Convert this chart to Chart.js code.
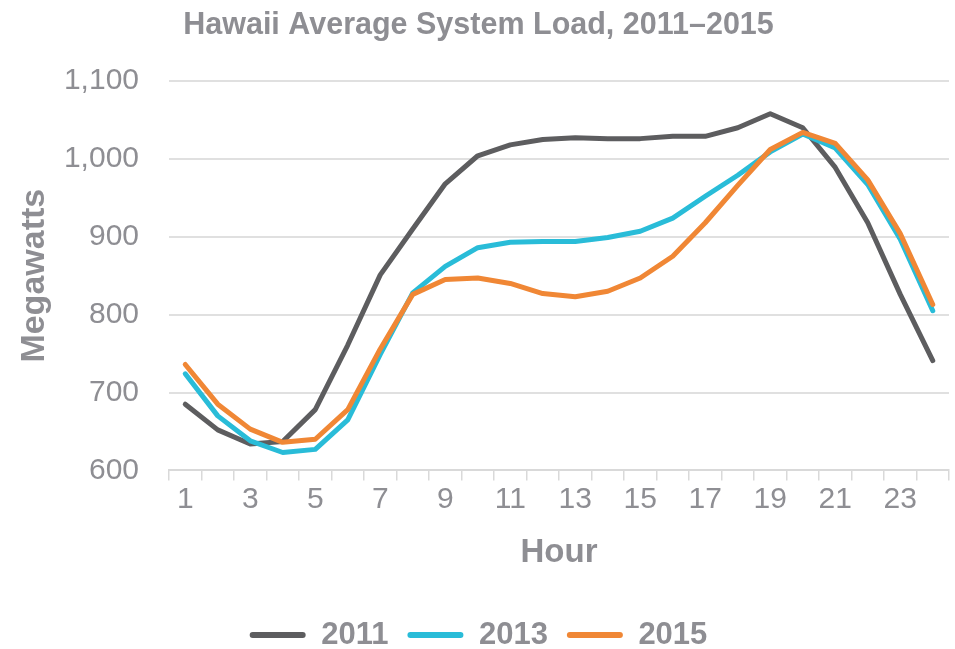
<!DOCTYPE html>
<html>
<head>
<meta charset="utf-8">
<title>Hawaii Average System Load</title>
<script src="https://cdn.jsdelivr.net/npm/chart.js@4/dist/chart.umd.min.js"></script>
<style>
  html, body { margin: 0; padding: 0; background: #fff; }
  #wrap { width: 955px; height: 649px; }
</style>
</head>
<body>
<div id="wrap"><canvas id="G1" width="955" height="649"></canvas></div>
<script>
// hours of the day
const hours = ['1','2','3','4','5','6','7','8','9','10','11','12',
               '13','14','15','16','17','18','19','20','21','22','23','24'];
// only every other hour gets a label
const hourTicks = ['1','3','5','7','9','11','13','15','17','19','21','23'];
const loadTicks = [600, 700, 800, 900, 1000, 1100];

// average load, MW
const load2011 = [685, 652, 634, 637, 678, 761, 851, 910, 968, 1004, 1018, 1025,
                  1027, 1026, 1026, 1029, 1029, 1040, 1058, 1040, 989, 918, 826, 741];
const load2013 = [724, 670, 638, 623, 627, 665, 749, 828, 862, 886, 893, 894,
                  894, 899, 907, 924, 952, 979, 1009, 1032, 1014, 967, 897, 805];
const load2015 = [736, 685, 653, 636, 640, 678, 756, 826, 845, 847, 840, 827,
                  823, 830, 847, 875, 918, 966, 1012, 1034, 1020, 973, 904, 813];

const years = ['2011', '2013', '2015'];
const colors = ['#5d5d5f', '#29bcd8', '#f08735'];

const grey = '#8e8e93';
const font = "'Liberation Sans', Arial, sans-serif";
Chart.defaults.font.family = font;
Chart.defaults.color = grey;

const series = [load2011, load2013, load2015];

const config = {
  type: 'line',
  data: {
    labels: hours,
    datasets: series.map((d, i) => ({
      label: years[i],
      data: d,
      borderColor: colors[i],
      backgroundColor: colors[i],
      borderWidth: 5,
      pointRadius: 0,
      tension: 0,
      borderCapStyle: 'round',
      borderJoinStyle: 'round',
      order: 3 - i
    }))
  },
  options: {
    responsive: false,
    animation: false,
    layout: { padding: { left: 8, right: 6, top: 0, bottom: -11.5 } },
    plugins: {
      title: {
        display: true,
        text: 'Hawaii Average System Load, 2011\u20132015',
        color: grey,
        font: { size: 30.5, weight: 'bold' },
        padding: { top: 7, bottom: 37.4 }
      },
      legend: {
        position: 'bottom',
        labels: {
          boxWidth: 56,
          boxHeight: 6,
          padding: 19,
          color: grey,
          font: { size: 31, weight: 'bold', lineHeight: 1 },
          generateLabels: chart => chart.data.datasets.map((ds, i) => ({
            text: ds.label,
            fillStyle: ds.borderColor,
            strokeStyle: ds.borderColor,
            fontColor: grey,
            lineWidth: 0,
            borderRadius: 3,
            datasetIndex: i
          }))
        }
      },
      tooltip: { enabled: false }
    },
    scales: {
      x: {
        offset: true,
        grid: {
          offset: true,
          drawOnChartArea: false,
          drawTicks: true,
          tickLength: 10,
          color: '#d9d9d9',
          lineWidth: 1.5
        },
        border: { color: '#d9d9d9', width: 2 },
        ticks: {
          autoSkip: false,
          maxRotation: 0,
          padding: 1,
          color: grey,
          font: { size: 30 },
          callback: function (v) {
            const l = this.getLabelForValue(v);
            return hourTicks.includes(l) ? l : '';
          }
        },
        title: {
          display: true,
          text: 'Hour',
          color: grey,
          font: { size: 33, weight: 'bold' },
          padding: { top: 15, bottom: 27.5 }
        }
      },
      y: {
        min: loadTicks[0],
        max: loadTicks[loadTicks.length - 1],
        grid: { color: '#e0e0e0', lineWidth: 2, drawTicks: false },
        border: { display: false },
        afterBuildTicks: axis => { axis.ticks = loadTicks.map(v => ({ value: v })); },
        afterFit: axis => { axis.width = 161; },
        ticks: {
          padding: 30,
          color: grey,
          font: { size: 30 },
          callback: v => v.toLocaleString('en-US')
        },
        title: {
          display: true,
          text: 'Megawatts',
          color: grey,
          font: { size: 34, weight: 'bold' },
          padding: 6
        }
      }
    }
  }
};

window.G1 = config;
new Chart(document.getElementById('G1'), window.G1);
</script>
</body>
</html>
